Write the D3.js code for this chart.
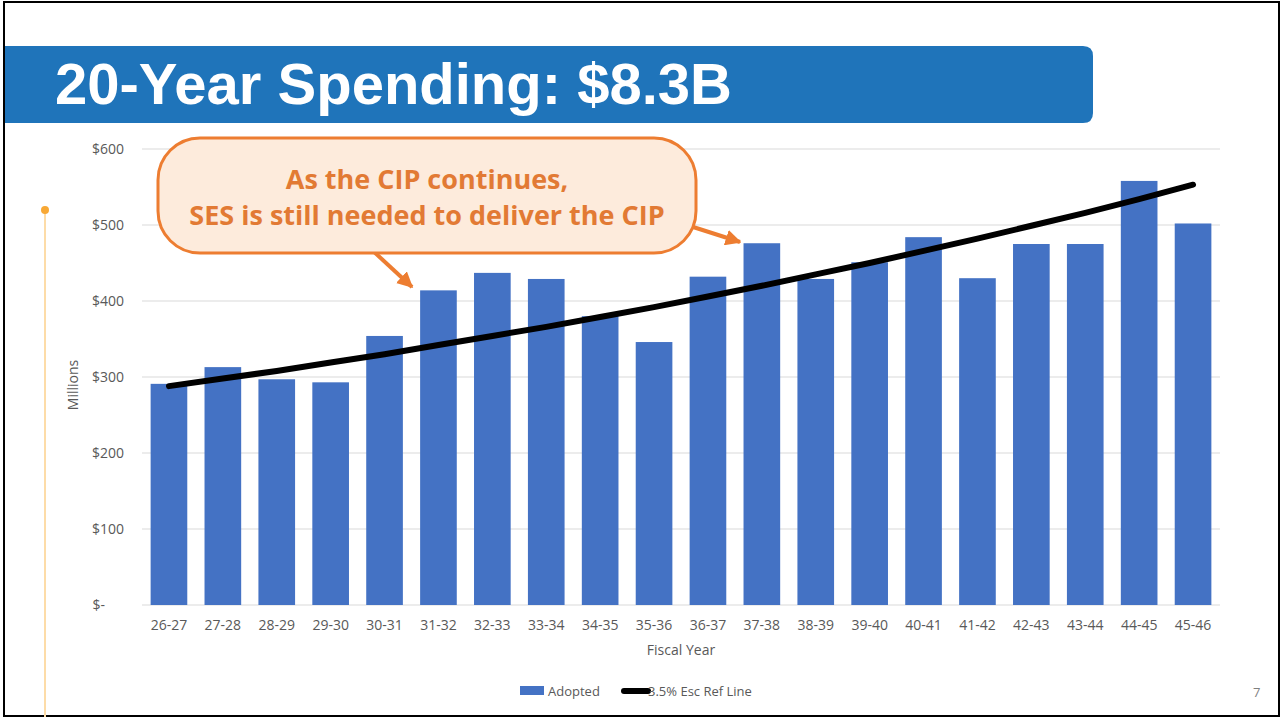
<!DOCTYPE html>
<html>
<head>
<meta charset="utf-8">
<script src="https://cdn.jsdelivr.net/npm/d3@7"></script>
<style>
  body { margin: 0; background: #fff; }
  svg { display: block; }
</style>
</head>
<body>
<script>
var width = 1281,
    height = 719;

var years = ["26-27", "27-28", "28-29", "29-30", "30-31", "31-32", "32-33", "33-34", "34-35", "35-36",
             "36-37", "37-38", "38-39", "39-40", "40-41", "41-42", "42-43", "43-44", "44-45", "45-46"];
var adopted = [291, 313, 297, 293, 354, 414, 437, 429, 380, 346,
               432, 476, 429, 451, 484, 430, 475, 475, 558, 502];
var refLine = [288, 298, 308, 319, 330, 342, 354, 366, 379, 392,
               406, 420, 435, 450, 466, 482, 499, 516, 534, 553];
var yTicks = [0, 100, 200, 300, 400, 500, 600];

var font = "'Open Sans', sans-serif";

var svg = d3.select("body").append("svg")
    .attr("width", width)
    .attr("height", height);

// slide frame
svg.append("rect")
    .attr("x", 4).attr("y", 2)
    .attr("width", 1275).attr("height", 714)
    .attr("fill", "#fff")
    .attr("stroke", "#000")
    .attr("stroke-width", 2);

// title banner, rounded on the right only
svg.append("path")
    .attr("d", "M5,46 H1083 Q1093,46 1093,56 V113 Q1093,123 1083,123 H5 Z")
    .attr("fill", "#1F74BA");

svg.append("text")
    .attr("x", 55).attr("y", 104)
    .attr("fill", "#fff")
    .style("font-family", "'Liberation Sans', Arial, sans-serif")
    .style("font-weight", "bold")
    .style("font-size", "58px")
    .text("20-Year Spending: $8.3B");

// gold side rule
svg.append("line")
    .attr("x1", 45).attr("x2", 45)
    .attr("y1", 210).attr("y2", 717)
    .attr("stroke", "#FDDCA8")
    .attr("stroke-width", 2);
svg.append("circle")
    .attr("cx", 45).attr("cy", 210).attr("r", 4)
    .attr("fill", "#F8A834");

var x = d3.scaleBand()
    .domain(years)
    .range([142, 1220])
    .paddingInner(0.32)
    .paddingOuter(0.16);

var y = d3.scaleLinear()
    .domain([0, 600])
    .range([605, 149]);

// gridlines
svg.append("g")
    .selectAll("line")
    .data(yTicks)
    .enter().append("line")
    .attr("x1", 142).attr("x2", 1220)
    .attr("y1", function(d) { return y(d); })
    .attr("y2", function(d) { return y(d); })
    .attr("stroke", "#D9D9D9")
    .attr("stroke-width", 1);

// y axis labels
var yAxis = svg.append("g")
    .attr("transform", "translate(124,0)")
    .call(d3.axisLeft(y).tickValues(yTicks).tickSize(0).tickPadding(0)
      .tickFormat(function(d) { return d === 0 ? "$-" : "$" + d; }));
yAxis.select(".domain").remove();
yAxis.selectAll("text")
    .attr("fill", "#595959")
    .style("font-family", font)
    .style("font-size", "14px");
yAxis.selectAll("text").filter(function(d) { return d === 0; })
    .attr("dx", -19);

// x axis labels
var xAxis = svg.append("g")
    .attr("transform", "translate(0,605)")
    .call(d3.axisBottom(x).tickSize(0).tickPadding(15));
xAxis.select(".domain").remove();
xAxis.selectAll("text")
    .attr("fill", "#595959")
    .style("font-family", font)
    .style("font-size", "14px");

// bars
svg.append("g")
    .selectAll("rect")
    .data(adopted)
    .enter().append("rect")
    .attr("x", function(d, i) { return x(years[i]); })
    .attr("width", x.bandwidth())
    .attr("y", function(d) { return y(d); })
    .attr("height", function(d) { return y(0) - y(d); })
    .attr("fill", "#4472C4");

// escalation reference line
var line = d3.line()
    .x(function(d, i) { return x(years[i]) + x.bandwidth() / 2; })
    .y(function(d) { return y(d); });

svg.append("path")
    .datum(refLine)
    .attr("d", line)
    .attr("fill", "none")
    .attr("stroke", "#000")
    .attr("stroke-width", 6)
    .attr("stroke-linecap", "round")
    .attr("stroke-linejoin", "round");

// axis titles
svg.append("text")
    .attr("transform", "translate(78,385) rotate(-90)")
    .attr("text-anchor", "middle")
    .attr("fill", "#595959")
    .style("font-family", font)
    .style("font-size", "14px")
    .text("Millions");

svg.append("text")
    .attr("x", 681).attr("y", 655)
    .attr("text-anchor", "middle")
    .attr("fill", "#595959")
    .style("font-family", font)
    .style("font-size", "14px")
    .text("Fiscal Year");

// callout arrows
var orange = "#ED7D31";
svg.append("defs").append("marker")
    .attr("id", "arrow")
    .attr("viewBox", "0 0 10 10")
    .attr("refX", 9).attr("refY", 5)
    .attr("markerWidth", 4).attr("markerHeight", 4)
    .attr("orient", "auto")
    .append("path")
    .attr("d", "M0,0 L10,5 L0,10 Z")
    .attr("fill", orange);

svg.append("line")
    .attr("x1", 372).attr("y1", 250)
    .attr("x2", 412).attr("y2", 287)
    .attr("stroke", orange).attr("stroke-width", 4)
    .attr("marker-end", "url(#arrow)");
svg.append("line")
    .attr("x1", 690).attr("y1", 226)
    .attr("x2", 740).attr("y2", 242)
    .attr("stroke", orange).attr("stroke-width", 4)
    .attr("marker-end", "url(#arrow)");

// callout bubble
svg.append("rect")
    .attr("x", 158).attr("y", 138)
    .attr("width", 538).attr("height", 115)
    .attr("rx", 42).attr("ry", 42)
    .attr("fill", "#FDEBDC")
    .attr("stroke", orange)
    .attr("stroke-width", 3);

var callout = svg.append("text")
    .attr("text-anchor", "middle")
    .attr("fill", "#E27A34")
    .style("font-family", font)
    .style("font-weight", "bold")
    .style("font-size", "27px");
callout.append("tspan").attr("x", 427).attr("y", 189).text("As the CIP continues,");
callout.append("tspan").attr("x", 427).attr("y", 225).text("SES is still needed to deliver the CIP");

// legend
var legend = svg.append("g");
legend.append("rect")
    .attr("x", 520).attr("y", 686)
    .attr("width", 24).attr("height", 9)
    .attr("fill", "#4472C4");
legend.append("text")
    .attr("x", 548).attr("y", 696)
    .attr("fill", "#595959")
    .style("font-family", font)
    .style("font-size", "13px")
    .text("Adopted");
legend.append("line")
    .attr("x1", 624).attr("x2", 648)
    .attr("y1", 691).attr("y2", 691)
    .attr("stroke", "#000")
    .attr("stroke-width", 6)
    .attr("stroke-linecap", "round");
legend.append("text")
    .attr("x", 648).attr("y", 696)
    .attr("fill", "#595959")
    .style("font-family", font)
    .style("font-size", "13px")
    .text("3.5% Esc Ref Line");

// page number
svg.append("text")
    .attr("x", 1253).attr("y", 697)
    .attr("fill", "#7F7F7F")
    .style("font-family", font)
    .style("font-size", "13px")
    .text("7");
</script>
</body>
</html>
